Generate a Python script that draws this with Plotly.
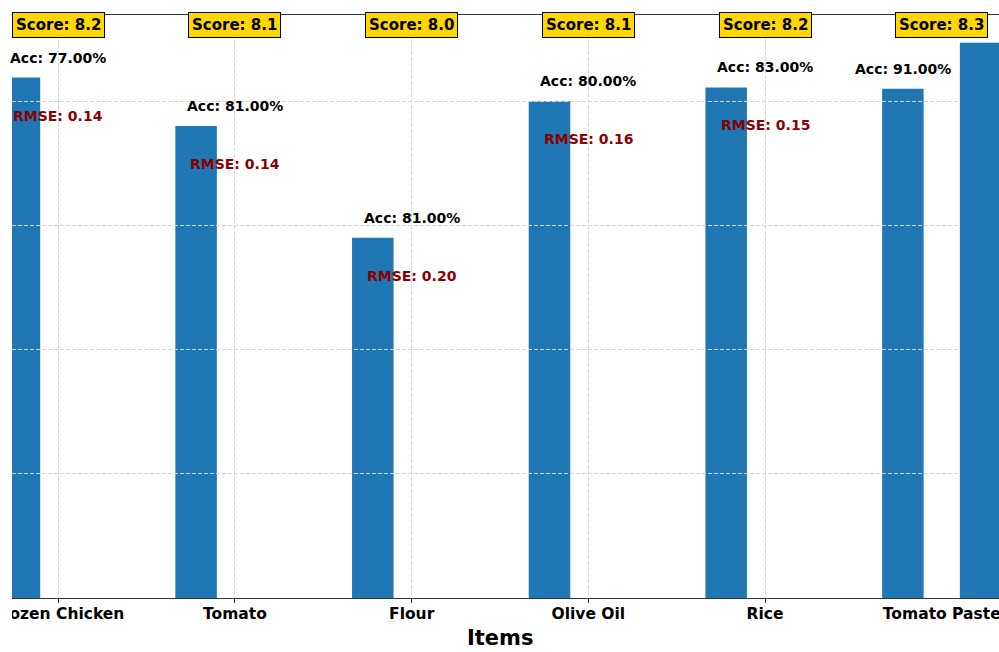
import plotly.graph_objects as go

# Items and their metrics
categories = ["Frozen Chicken", "Tomato", "Flour", "Olive Oil", "Rice", "Tomato Paste"]
values = [4.19, 3.80, 2.90, 4.00, 4.11, 4.10]
second_values = [None, None, None, None, None, 4.47]
scores = [8.2, 8.1, 8.0, 8.1, 8.2, 8.3]
accuracy = [77.0, 81.0, 81.0, 80.0, 83.0, 91.0]
rmse = [0.14, 0.14, 0.20, 0.16, 0.15, None]

BAR_COLOR = "#1f77b4"
FONT = "DejaVu Sans"
BAR_W = 0.235
OFFSET = 0.22
GRID = dict(showgrid=True, gridcolor="#d6d6d6", gridwidth=1, griddash="4px,2px")

pos = list(range(len(categories)))
sec_x = [p + OFFSET for p, v in zip(pos, second_values) if v is not None]
sec_y = [v for v in second_values if v is not None]
ymax = 1.05 * max(values + sec_y)
xrange = [-0.262, 5.324]

fig = go.Figure()

# first series: underneath the grid layer
fig.add_trace(go.Bar(
    x=[p - OFFSET for p in pos], y=values, width=BAR_W,
    marker=dict(color=BAR_COLOR, line=dict(width=0)),
    showlegend=False, hoverinfo="skip", xaxis="x", yaxis="y",
))
# second series: on the upper layer, above the grid
fig.add_trace(go.Bar(
    x=sec_x, y=sec_y, width=BAR_W,
    marker=dict(color=BAR_COLOR, line=dict(width=0)),
    showlegend=False, hoverinfo="skip", xaxis="x2", yaxis="y2",
))

annotations = []
for p, v, s, a, r in zip(pos, values, scores, accuracy, rmse):
    # score badge along the top edge
    annotations.append(dict(
        x=p, xref="x", y=1, yref="paper", yanchor="middle", yshift=-10,
        text=f"Score: {s:.1f}", showarrow=False,
        font=dict(family=FONT, size=15, color="black", weight="bold"),
        bgcolor="#FFD700", bordercolor="black", borderwidth=1, borderpad=3,
    ))
    # accuracy label above the bar
    acc_x = p if r is not None else p - OFFSET
    annotations.append(dict(
        x=acc_x, xref="x", y=v, yref="y", yanchor="middle", yshift=20,
        text=f"Acc: {a:.2f}%", showarrow=False,
        font=dict(family=FONT, size=14, color="black", weight="bold"),
    ))
    if r is not None:
        annotations.append(dict(
            x=p, xref="x", y=v, yref="y", yanchor="middle", yshift=-38,
            text=f"RMSE: {r:.2f}", showarrow=False,
            font=dict(family=FONT, size=14, color="#8B0000", weight="bold"),
        ))

# axis title
annotations.append(dict(
    x=(500 - 12) / 987, xref="paper", y=0, yref="paper", yanchor="middle",
    yshift=-40, text="Items", showarrow=False,
    font=dict(family=FONT, size=21, color="black", weight="bold"),
))

fig.update_layout(
    width=999, height=652,
    margin=dict(l=12, r=0, t=15, b=54),
    paper_bgcolor="white", plot_bgcolor="rgba(0,0,0,0)",
    barmode="overlay",
    annotations=annotations,
    shapes=[dict(type="rect", xref="paper", yref="paper",
                 x0=-0.05, x1=0, y0=-0.2, y1=1.1,
                 fillcolor="white", line=dict(width=0), layer="above")],
    font=dict(family=FONT),
    xaxis=dict(
        range=xrange, domain=[0, 1], anchor="y",
        tickvals=pos, ticktext=categories, ticks="",
        tickfont=dict(family=FONT, size=15.5, color="black", weight="bold"),
        ticklabeloverflow="allow", ticklabelstandoff=1,
        showline=True, linecolor="#333333", linewidth=1, mirror=True,
        showgrid=False, zeroline=False, automargin=False,
    ),
    yaxis=dict(
        range=[0, ymax], domain=[0, 1], anchor="x",
        showticklabels=False, ticks="", showline=False,
        showgrid=False, zeroline=False, automargin=False,
    ),
    xaxis2=dict(
        range=xrange, domain=[0, 1], anchor="y2",
        tickvals=pos[:-1], showticklabels=False,
        ticks="outside", ticklen=4, tickcolor="#333333", tickwidth=1,
        showline=False, zeroline=False, automargin=False, **GRID,
    ),
    yaxis2=dict(
        range=[0, ymax], domain=[0, 1], anchor="x2", dtick=1, tick0=0,
        showticklabels=False, ticks="", showline=False,
        zeroline=False, automargin=False, **GRID,
    ),
)

fig.write_html("out.html")
